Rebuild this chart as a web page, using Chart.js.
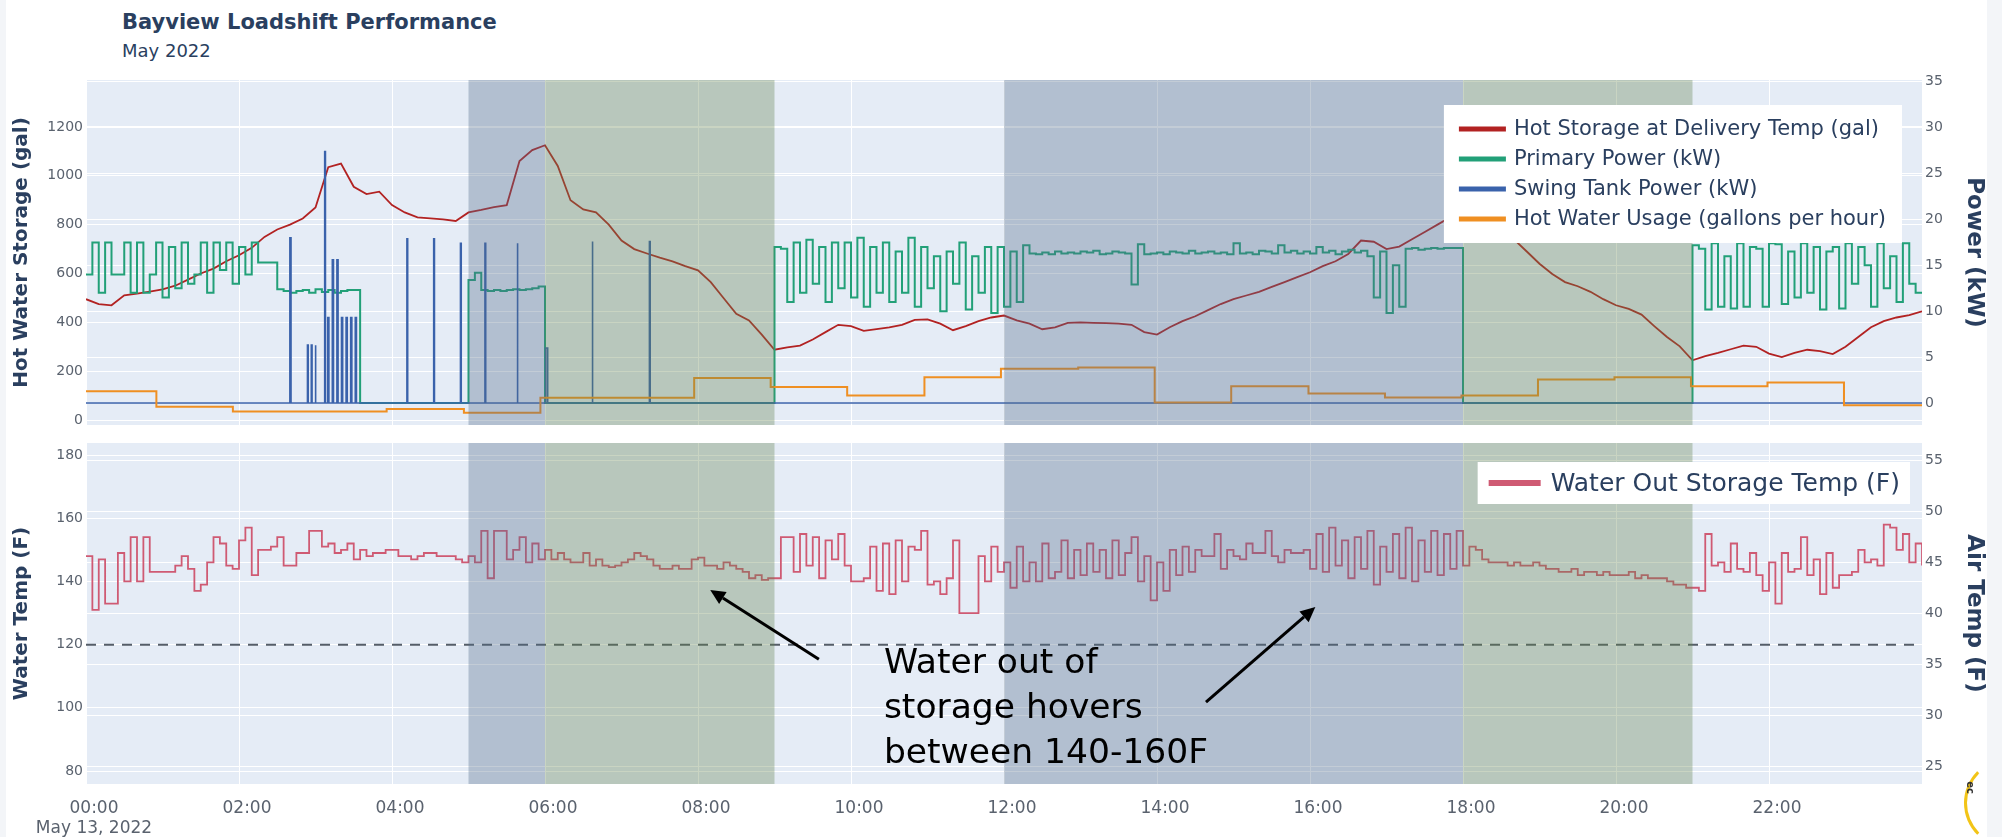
<!DOCTYPE html>
<html>
<head>
<meta charset="utf-8">
<title>Bayview Loadshift Performance</title>
<script src="https://cdn.jsdelivr.net/npm/chart.js@4.4.1/dist/chart.umd.min.js"></script>
<style>
  body { margin: 0; width: 2002px; height: 837px; background: #ffffff; position: relative; overflow: hidden;
         font-family: "DejaVu Sans", Verdana, sans-serif; }
  .edge { position: absolute; background: #f3f5f8; }
  #title { position: absolute; left: 122px; top: 10px; font-weight: bold; font-size: 21px; color: #2a3f5f; }
  #subtitle { position: absolute; left: 122px; top: 40px; font-size: 18px; color: #2a3f5f; }
  canvas { position: absolute; left: 0; }
  #top-chart { top: 0; }
  #bottom-chart { top: 430px; }
  #logo { position: absolute; left: 1964px; top: 758px; width: 84px; height: 84px; border-radius: 50%;
          border: 3px solid transparent; border-left-color: #f2c417; }
  #logo-text { position: absolute; left: 1964px; top: 782px; font-size: 10px; font-weight: bold; color: #333;
               transform: rotate(90deg); }
</style>
</head>
<body>
<div class="edge" style="left:0;top:0;width:6px;height:837px"></div>
<div class="edge" style="left:1987px;top:0;width:15px;height:837px"></div>
<div id="title">Bayview Loadshift Performance</div>
<div id="subtitle">May 2022</div>
<canvas id="top-chart" width="2002" height="440"></canvas>
<canvas id="bottom-chart" width="2002" height="407"></canvas>
<div id="logo"></div>
<div id="logo-text">ec</div>
<script>
// ---- data (hours since 00:00, May 13 2022) ----

// hot storage at delivery temp, gallons, one value every 10 min
const storageStepMin = 10;
const storageGal = [
  495, 475, 470, 511, 518, 526,
  535, 550, 575, 600, 620, 650,
  675, 705, 750, 780, 800, 825,
  870, 1035, 1050, 955, 925, 935,
  880, 850, 830, 826, 822, 815,
  850, 860, 872, 880, 1060, 1105,
  1125, 1040, 900, 862, 850, 800,
  735, 700, 682, 665, 650, 630,
  613, 565, 500, 435, 408, 350,
  288, 298, 305, 330, 360, 390,
  385, 365, 372, 380, 390, 410,
  412, 395, 368, 385, 405, 420,
  428, 408, 395, 372, 380, 398,
  400, 398, 397, 395, 390, 360,
  350, 380, 405, 425, 450, 475,
  495, 510, 525, 545, 565, 585,
  605, 630, 650, 680, 735, 730,
  700, 710, 740, 770, 800, 830,
  860, 880, 850, 800, 740, 690,
  640, 598, 565, 548, 525, 495,
  470, 455, 432, 385, 340, 302,
  245, 262, 275, 290, 305, 300,
  272, 258, 275, 288, 282, 270,
  300, 340, 380, 405, 420, 430,
  445
];

// primary heat pump power, kW, one value every 5 min
const powerStepMin = 5;
const primaryKw = [
  14, 17.5, 12, 17.5, 14, 14, 17.5, 12, 17.5, 12, 14, 17.5,
  11.5, 17, 12.5, 17.5, 13, 14, 17.5, 12, 17.5, 14.5, 17.5, 13,
  17, 14, 17.5, 15.3, 15.3, 15.3, 12.4, 12.2, 12.0, 12.2, 12.3, 12.0,
  12.4, 12.1, 12.3, 12.0, 12.2, 12.3, 12.3, 0, 0, 0, 0, 0,
  0, 0, 0, 0, 0, 0, 0, 0, 0, 0, 0, 0,
  13.4, 14.2, 12.3, 12.2, 12.3, 12.2, 12.3, 12.4, 12.3, 12.4, 12.5, 12.7,
  0, 0, 0, 0, 0, 0, 0, 0, 0, 0, 0, 0,
  0, 0, 0, 0, 0, 0, 0, 0, 0, 0, 0, 0,
  0, 0, 0, 0, 0, 0, 0, 0, 0, 0, 0, 0,
  17, 16.8, 11, 17.5, 12, 17.8, 13, 17, 11, 17.5, 12.5, 17.5,
  11.5, 18, 10.5, 17, 12, 17.5, 11, 16.5, 12, 18, 10.5, 17,
  12.5, 16, 10, 16.5, 13, 17.5, 10.2, 16, 12, 17, 9.8, 17,
  10.5, 16.5, 11, 17.2, 16.3, 16.2, 16.4, 16.2, 16.5, 16.3, 16.4, 16.3,
  16.5, 16.4, 16.6, 16.2, 16.3, 16.5, 16.4, 16.3, 12.9, 17.3, 16.2, 16.3,
  16.4, 16.2, 16.5, 16.4, 16.3, 16.6, 16.3, 16.4, 16.5, 16.3, 16.4, 16.2,
  17.4, 16.3, 16.4, 16.2, 16.6, 16.5, 16.3, 17.2, 16.4, 16.6, 16.3, 16.5,
  16.3, 17.0, 16.4, 16.6, 16.2, 16.5, 16.7, 16.4, 16.6, 16.0, 11.5, 16.5,
  9.8, 15, 10.5, 16.8, 16.9, 16.7, 16.8, 16.9, 16.8, 16.9, 16.9, 16.9,
  0, 0, 0, 0, 0, 0, 0, 0, 0, 0, 0, 0,
  0, 0, 0, 0, 0, 0, 0, 0, 0, 0, 0, 0,
  0, 0, 0, 0, 0, 0, 0, 0, 0, 0, 0, 0,
  17.2, 16.8, 10.2, 17.4, 10.5, 16, 10.3, 17.4, 10.5, 17, 16.8, 10.5,
  17.4, 17.3, 10.8, 16.5, 11.5, 17.4, 12, 17, 10.2, 16.5, 17, 10.3,
  17.4, 13, 17, 15, 10.5, 17.4, 12.5, 16, 11, 17.4, 13, 12,
  12
];

// swing tank element: on/off pulses (start hour, end hour, kW)
const swingStart = [2.665, 2.895, 2.945, 2.995, 3.12, 3.16, 3.22, 3.28, 3.34, 3.40, 3.46, 3.52,
                    4.195, 4.545, 4.895, 5.215, 5.635, 6.01, 6.615, 7.365];
const swingEnd   = [2.68, 2.905, 2.955, 3.005, 3.13, 3.175, 3.235, 3.295, 3.355, 3.415, 3.475, 3.535,
                    4.205, 4.555, 4.905, 5.225, 5.645, 6.035, 6.625, 7.375];
const swingKw    = [18.0, 6.3, 6.3, 6.3, 27.4, 9.3, 15.6, 15.6, 9.3, 9.3, 9.3, 9.3,
                    17.9, 17.9, 17.4, 17.4, 17.4, 6.0, 17.6, 17.6];

// hot water usage, gallons per hour (hourly steps)
const usageHours = [0, 0.92, 1.92, 2.93, 3.93, 4.94, 5.94, 6.95, 7.95, 8.95, 9.95, 10.96, 11.96,
                    12.97, 13.97, 14.97, 15.98, 16.98, 17.98, 18.98, 19.98, 20.98, 21.98, 22.98, 24];
const usageGph   = [118, 55, 35, 35, 45, 30, 92, 92, 172, 136, 101, 175, 210,
                    215, 72, 139, 109, 93, 101, 166, 175, 139, 154, 61, 61];

// water out of storage temperature, F, one value every 5 min
const tempStepMin = 5;
const waterOutF = [
  148, 131, 147, 133, 133, 149, 140, 154, 140, 154, 143, 143,
  143, 143, 145, 148, 144, 137, 139, 146, 154, 152, 145, 144,
  153, 157, 142, 150, 150, 151, 154, 145, 145, 149, 149, 156,
  156, 151, 152, 149, 150, 152, 147, 150, 148, 149, 149, 150,
  150, 148, 148, 147, 148, 149, 149, 148, 148, 148, 147, 146,
  148, 146, 156, 141, 156, 156, 147, 150, 154, 146, 152, 147,
  150, 147, 149, 147, 146, 146, 149, 145, 147, 145, 144.5, 145,
  146, 147, 149, 148, 147, 145, 144, 144, 145, 144, 144, 147,
  147.5, 145, 145, 144, 146, 145, 144, 143, 141, 142, 140.5, 141,
  141, 154, 154, 143, 155, 145, 154, 141, 153, 147, 155, 145,
  140, 140, 141, 151, 137, 152, 136, 153, 140, 151, 150, 156,
  139, 140, 136, 141, 153, 130, 130, 130, 148, 140, 151, 143,
  146, 138, 151, 140, 146, 140, 152, 141, 143, 153, 141, 150,
  142, 152, 143, 150, 141, 153, 142, 149, 154, 140, 148, 134,
  146, 137, 150, 142, 151, 143, 150, 148, 148, 155, 144, 150,
  148, 147, 152, 149, 149, 156, 148, 146, 150, 149, 149, 150,
  144, 155, 143, 157, 145, 153, 141, 154, 144, 156, 139, 151,
  143, 155, 141, 157, 140, 153, 143, 156, 142, 155, 144, 156,
  145, 151, 150, 147, 146, 146, 146, 145, 146, 145, 145, 146,
  145, 144, 144, 143, 143, 144, 142, 143, 143, 142, 143, 142,
  142, 142, 143, 141, 142, 141, 141, 141, 140, 139, 139, 138,
  138, 137, 155, 145, 146, 143, 152, 144, 143, 149, 142, 137,
  146, 133, 149, 143, 144, 154, 142, 147, 136, 149, 138, 142,
  142, 143, 150, 146, 147, 145, 158, 157, 150, 155, 146, 152,
  145
];
const deliveryTempF = 120;

// load shift windows
const shadeStart = [5, 6, 12, 18];
const shadeEnd   = [6, 9, 18, 21];
const shadeKind  = ['peak', 'shift', 'peak', 'shift'];

// axis ticks
const galTicks = [0, 200, 400, 600, 800, 1000, 1200];
const kwTicks = [0, 5, 10, 15, 20, 25, 30, 35];
const waterTicks = [80, 100, 120, 140, 160, 180];
const airTicks = [25, 30, 35, 40, 45, 50, 55];
const hourTicks = ['00:00', '02:00', '04:00', '06:00', '08:00', '10:00', '12:00', '14:00', '16:00', '18:00', '20:00', '22:00'];
const dateTick = 'May 13, 2022';

const noteLines = ['Water out of', 'storage hovers', 'between 140-160F'];
const noteAt = { hour: 10.43, temp: 113.9 };
const arrowFrom = [{ hour: 9.58, temp: 115.4 }, { hour: 14.64, temp: 101.8 }];
const arrowTo   = [{ hour: 8.16, temp: 137.3 }, { hour: 16.07, temp: 131.9 }];

// ---- helpers ----
const FONT = '"DejaVu Sans", Verdana, sans-serif';
const tickColor = '#5a626e';
const titleColor = '#2a3f5f';
const shadeFill = { peak: 'rgba(83,110,137,0.35)', shift: 'rgba(100,133,80,0.35)' };

function everyStep(values, stepMin) {
  return values.map((v, i) => ({ x: i * stepMin / 60, y: v }));
}

let swingPoints = [{ x: 0, y: 0 }];
for (let i = 0; i < swingStart.length; i++) {
  swingPoints.push({ x: swingStart[i], y: 0 }, { x: swingStart[i], y: swingKw[i] },
                   { x: swingEnd[i], y: swingKw[i] }, { x: swingEnd[i], y: 0 });
}
swingPoints.push({ x: 24, y: 0 });

const plotBackground = {
  id: 'plotBackground',
  beforeDraw(chart) {
    const { ctx, chartArea: a } = chart;
    ctx.save();
    ctx.fillStyle = '#e5ecf6';
    ctx.fillRect(a.left, a.top, a.width, a.height);
    ctx.restore();
  }
};

// shading sits above the traces, like the plotly vrects
const shiftShading = {
  id: 'shiftShading',
  afterDatasetsDraw(chart) {
    const { ctx, chartArea: a, scales } = chart;
    ctx.save();
    for (let i = 0; i < shadeStart.length; i++) {
      const x0 = scales.x.getPixelForValue(shadeStart[i]);
      const x1 = scales.x.getPixelForValue(shadeEnd[i]);
      ctx.fillStyle = shadeFill[shadeKind[i]];
      ctx.fillRect(x0, a.top, x1 - x0, a.height);
    }
    ctx.restore();
  }
};

function boxLegend(o) {
  return {
    id: 'boxLegend',
    afterDraw(chart) {
      const { ctx, chartArea: a } = chart;
      const items = chart.data.datasets.filter(d => d.label);
      ctx.save();
      ctx.font = o.fontSize + 'px ' + FONT;
      let textW = 0;
      items.forEach(d => { textW = Math.max(textW, ctx.measureText(d.label).width); });
      const w = o.padLeft + o.swatch + o.gap + textW + o.padRight;
      const h = o.padTop * 2 + (items.length - 1) * o.row;
      const right = a.right - o.right;
      const left = right - w;
      const top = a.top + o.top;
      ctx.fillStyle = '#ffffff';
      ctx.fillRect(left, top, w, h);
      ctx.textBaseline = 'middle';
      items.forEach((d, i) => {
        const y = top + o.padTop + i * o.row;
        ctx.fillStyle = d.borderColor;
        ctx.fillRect(left + o.padLeft, y - o.thick / 2, o.swatch, o.thick);
        ctx.fillStyle = titleColor;
        ctx.fillText(d.label, left + o.padLeft + o.swatch + o.gap, y + 1);
      });
      ctx.restore();
    }
  };
}

function drawArrow(ctx, x0, y0, x1, y1) {
  const ang = Math.atan2(y1 - y0, x1 - x0);
  const len = 15, half = 7;
  const bx = x1 - len * Math.cos(ang), by = y1 - len * Math.sin(ang);
  ctx.beginPath();
  ctx.moveTo(x0, y0);
  ctx.lineTo(bx, by);
  ctx.stroke();
  ctx.beginPath();
  ctx.moveTo(x1, y1);
  ctx.lineTo(bx + half * Math.sin(ang), by - half * Math.cos(ang));
  ctx.lineTo(bx - half * Math.sin(ang), by + half * Math.cos(ang));
  ctx.closePath();
  ctx.fill();
}

const noteLayer = {
  id: 'noteLayer',
  afterDraw(chart) {
    const { ctx, scales } = chart;
    const x = scales.x, y = scales.yTemp;
    ctx.save();
    ctx.fillStyle = '#000000';
    ctx.strokeStyle = '#000000';
    ctx.lineWidth = 3;
    for (let i = 0; i < arrowFrom.length; i++) {
      drawArrow(ctx, x.getPixelForValue(arrowFrom[i].hour), y.getPixelForValue(arrowFrom[i].temp),
                x.getPixelForValue(arrowTo[i].hour), y.getPixelForValue(arrowTo[i].temp));
    }
    ctx.font = '34.5px ' + FONT;
    ctx.textBaseline = 'middle';
    const nx = x.getPixelForValue(noteAt.hour), ny = y.getPixelForValue(noteAt.temp);
    noteLines.forEach((t, i) => ctx.fillText(t, nx, ny + i * 45));
    ctx.restore();
  }
};

const tickFont = { family: FONT, size: 14 };

const hourAxis = (showLabels) => ({
  type: 'linear', min: 0, max: 24,
  border: { display: false },
  grid: { color: '#ffffff', lineWidth: 1, drawTicks: false },
  ticks: {
    display: showLabels, stepSize: 2, autoSkip: false, maxRotation: 0, padding: 14, labelOffset: 8,
    color: tickColor, font: { family: FONT, size: 17 },
    callback: v => {
      const i = Math.round(v / 2);
      if (i >= hourTicks.length) return '';
      return i === 0 ? [hourTicks[0], dateTick] : hourTicks[i];
    }
  },
  afterFit: s => { s.height = showLabels ? 53 : 0; }
});

function sideAxis(pos, min, max, tickList, title, titleSize, width, titlePad) {
  return {
    position: pos, min: min, max: max,
    border: { display: false },
    grid: { color: '#ffffff', lineWidth: 1, drawTicks: false },
    ticks: { color: tickColor, font: tickFont, padding: 3, callback: v => String(v) },
    afterBuildTicks: s => { s.ticks = tickList.map(v => ({ value: v })); },
    title: { display: true, text: title, color: titleColor,
             font: { family: FONT, size: titleSize, weight: 'bold' }, padding: { top: titlePad, bottom: 0 } },
    afterFit: s => { s.width = width; }
  };
}

// ---- top chart ----
new Chart(document.getElementById('top-chart').getContext('2d'), {
  type: 'line',
  data: {
    datasets: [
      { label: 'Hot Storage at Delivery Temp (gal)', data: everyStep(storageGal, storageStepMin),
        yAxisID: 'yGal', borderColor: '#b22222', borderWidth: 1.8, order: 4 },
      { label: 'Primary Power (kW)', data: everyStep(primaryKw, powerStepMin),
        yAxisID: 'yKw', borderColor: '#22a078', borderWidth: 2, stepped: 'before', order: 3 },
      { label: 'Swing Tank Power (kW)', data: swingPoints,
        yAxisID: 'yKw', borderColor: '#3a62ab', borderWidth: 1.6, order: 2 },
      { label: 'Hot Water Usage (gallons per hour)', data: usageHours.map((h, i) => ({ x: h, y: usageGph[i] })),
        yAxisID: 'yGal', borderColor: '#ef8f22', borderWidth: 2, stepped: 'before', order: 1 }
    ]
  },
  options: {
    responsive: false, animation: false, devicePixelRatio: 1,
    layout: { padding: { top: 80, bottom: 15, left: 0, right: 0 } },
    elements: { point: { radius: 0 }, line: { tension: 0 } },
    plugins: { legend: { display: false }, tooltip: { enabled: false } },
    scales: {
      x: hourAxis(false),
      yGal: sideAxis('left', -20, 1392, galTicks, 'Hot Water Storage (gal)', 20, 86, 10),
      yKw: sideAxis('right', -2.4, 35.2, kwTicks, 'Power (kW)', 23, 80, 14)
    }
  },
  plugins: [plotBackground, shiftShading,
            boxLegend({ fontSize: 21, right: 20, top: 25, padTop: 24, row: 30, padLeft: 15, swatch: 47, gap: 8, padRight: 16, thick: 5 })]
});

// ---- bottom chart ----
new Chart(document.getElementById('bottom-chart').getContext('2d'), {
  type: 'line',
  data: {
    datasets: [
      { label: 'Water Out Storage Temp (F)', data: everyStep(waterOutF, tempStepMin),
        yAxisID: 'yTemp', borderColor: '#cf5a73', borderWidth: 1.8, stepped: 'before', order: 1 },
      { label: '', data: [{ x: 0, y: deliveryTempF }, { x: 24, y: deliveryTempF }],
        yAxisID: 'yTemp', borderColor: '#555d68', borderWidth: 2, borderDash: [10, 8], order: 2 }
    ]
  },
  options: {
    responsive: false, animation: false, devicePixelRatio: 1,
    layout: { padding: { top: 13, bottom: 0, left: 0, right: 0 } },
    elements: { point: { radius: 0 }, line: { tension: 0 } },
    plugins: { legend: { display: false }, tooltip: { enabled: false } },
    scales: {
      x: hourAxis(true),
      yTemp: sideAxis('left', 75.9, 183.8, waterTicks, 'Water Temp (F)', 20, 86, 10),
      yAir: sideAxis('right', 23.3, 56.7, airTicks, 'Air Temp (F)', 23, 80, 14)
    }
  },
  plugins: [plotBackground, shiftShading,
            boxLegend({ fontSize: 25, right: 12, top: 19, padTop: 21, row: 0, padLeft: 11, swatch: 52, gap: 10, padRight: 10, thick: 6 }),
            noteLayer]
});
</script>
</body>
</html>
